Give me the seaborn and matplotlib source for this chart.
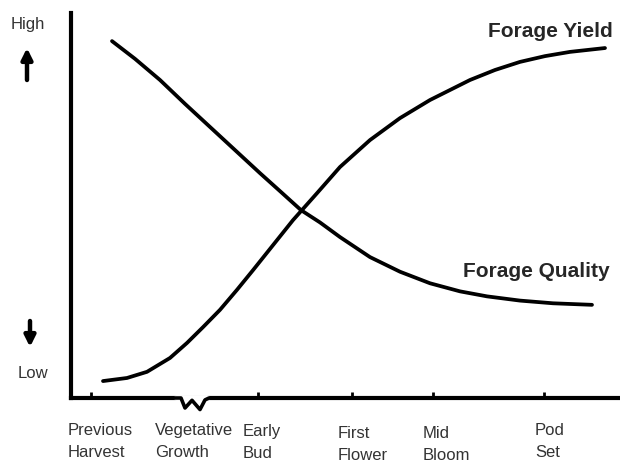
import matplotlib
matplotlib.use('Agg')
import matplotlib.pyplot as plt
import numpy as np
import pandas as pd
import seaborn as sns

# growth-stage position (0 = axis origin) and relative level (0 = low, 100 = high)
yield_x = [32, 56, 76, 99, 116, 132, 149, 166, 182, 202, 222, 246, 269, 299, 329, 359,
           399, 424, 449, 474, 499, 534]
yield_y = [4.4, 5.2, 6.8, 10.4, 14.3, 18.4, 22.9, 28.1, 33.2, 39.7, 46.2, 53.2, 60.0, 67.0,
           72.7, 77.4, 82.6, 85.2, 87.3, 88.8, 89.9, 90.9]
quality_x = [41, 64, 89, 114, 139, 164, 189, 210, 230, 249, 269, 299, 329, 359, 389, 416,
             449, 482, 521]
quality_y = [92.7, 88.1, 82.6, 76.4, 70.4, 64.4, 58.4, 53.5, 48.8, 45.6, 41.8, 36.6, 32.8,
             29.8, 27.7, 26.4, 25.3, 24.6, 24.2]

stage_ticks = [20, 187, 281, 362, 473]
stage_labels = ['Previous\nHarvest', 'Vegetative\nGrowth', 'Early\nBud', 'First\nFlower', 'Mid\nBloom', 'Pod\nSet']
label_x = [-3, 84, 172, 267, 352, 464]
label_y = [-6.5, -6.5, -6.8, -7.3, -7.3, -6.5]

sns.set_style('white')
plt.rcParams['font.family'] = ['Liberation Sans', 'DejaVu Sans']

fig = plt.figure(figsize=(6.2, 4.63), dpi=100)
ax = fig.add_axes([71 / 620, 65 / 463, 549 / 620, 385 / 463])

df = pd.concat([
    pd.DataFrame({'stage': yield_x, 'level': yield_y, 'curve': 'Forage Yield'}),
    pd.DataFrame({'stage': quality_x, 'level': quality_y, 'curve': 'Forage Quality'}),
])
sns.lineplot(data=df, x='stage', y='level', units='curve', estimator=None,
             color='black', linewidth=2.7, sort=False, ax=ax, legend=False)

ax.set_xlim(0, 549)
ax.set_ylim(0, 100)
ax.set_xlabel('')
ax.set_ylabel('')
for side in ['top', 'right']:
    ax.spines[side].set_visible(False)
for side in ['left', 'bottom']:
    ax.spines[side].set_linewidth(3)
    ax.spines[side].set_color('black')
ax.set_yticks([])
ax.set_xticks(stage_ticks)
ax.set_xticklabels([])
ax.tick_params(axis='x', direction='in', length=4, width=2, color='black', bottom=True)

# axis break
ax.plot([106, 136], [0, 0], color='white', linewidth=4, clip_on=False, zorder=5)
ax.plot([104, 110, 114, 121, 129, 134, 138], [0, 0, -2.6, -0.6, -3.0, -0.5, 0],
        color='black', linewidth=2.6, clip_on=False, zorder=6)

for x, y, lab in zip(label_x, label_y, stage_labels):
    ax.text(x, y, lab, ha='left', va='top', fontsize=12, color='#333333',
            linespacing=1.6, clip_on=False)

ax.text(417, 93.8, 'Forage Yield', fontsize=15, fontweight='bold', va='baseline')
ax.text(392, 31.4, 'Forage Quality', fontsize=15, fontweight='bold', va='baseline')


def fpos(px, py):
    return (px / 620, 1 - py / 463)


fig.text(*fpos(28, 24), 'High', ha='center', va='center', fontsize=12, color='#333333')
fig.text(*fpos(33, 373), 'Low', ha='center', va='center', fontsize=12, color='#333333')
arrow = dict(arrowstyle='-|>', lw=3.2, color='black', mutation_scale=16, shrinkA=0, shrinkB=0)
ax.annotate('', xy=fpos(27, 48), xytext=fpos(27, 80), xycoords='figure fraction',
            textcoords='figure fraction', arrowprops=arrow)
ax.annotate('', xy=fpos(30, 347), xytext=fpos(30, 321), xycoords='figure fraction',
            textcoords='figure fraction', arrowprops=arrow)

fig.savefig('out.png', dpi=100)
